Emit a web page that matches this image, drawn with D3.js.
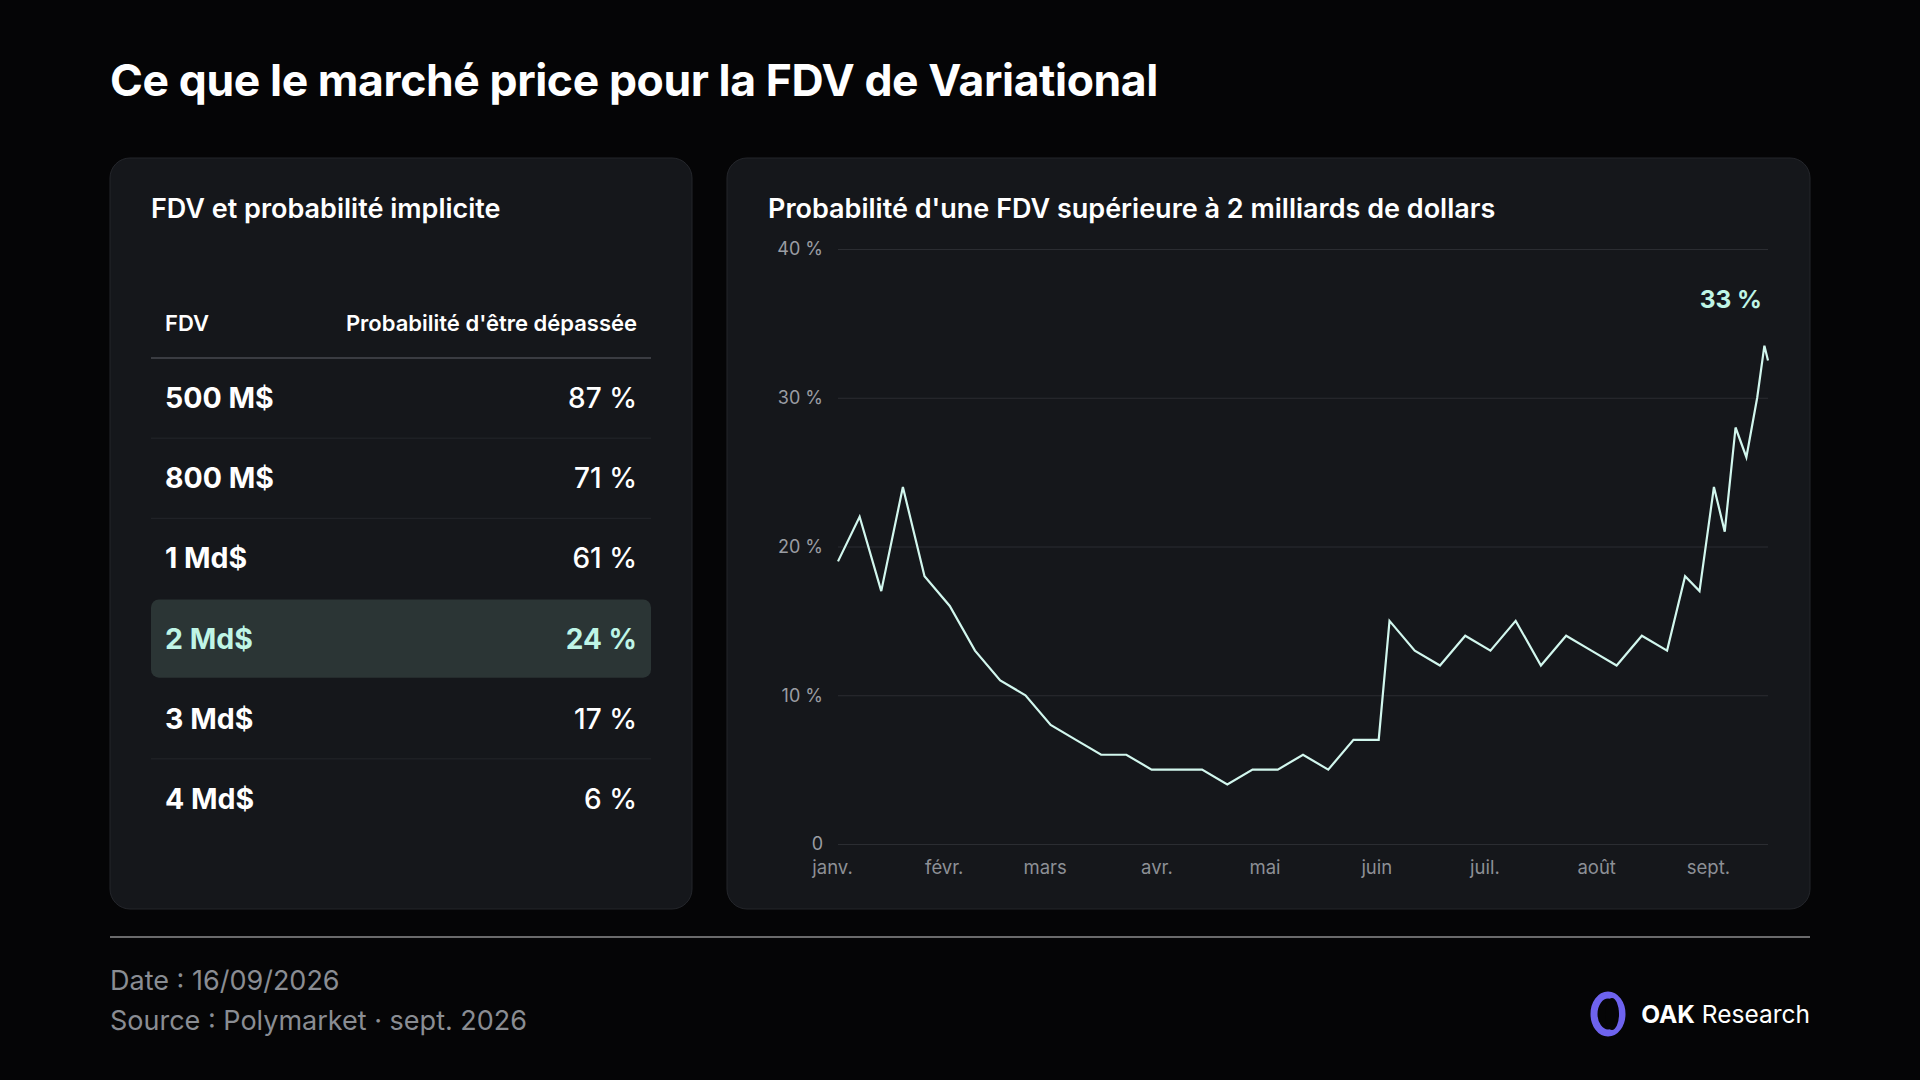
<!DOCTYPE html>
<html><head><meta charset="utf-8">
<script src="https://cdn.jsdelivr.net/npm/d3@7"></script>
<style>
body{margin:0;background:#050506;}
svg{display:block;font-family:Inter,"Noto Sans",sans-serif;}
</style></head>
<body><svg id="c" width="1920" height="1080"></svg>
<script>
// table data
const fdvLabels = ["500 M$", "800 M$", "1 Md$", "2 Md$", "3 Md$", "4 Md$"];
const fdvProbs = [87, 71, 61, 24, 17, 6];
const highlightIndex = 3;

// line data (probability FDV > 2 Md$)
const dates = ["2026-01-01","2026-01-07","2026-01-13","2026-01-19","2026-01-25","2026-02-01","2026-02-08","2026-02-15","2026-02-22","2026-03-01","2026-03-08","2026-03-15","2026-03-22","2026-03-29","2026-04-05","2026-04-12","2026-04-19","2026-04-26","2026-05-03","2026-05-10","2026-05-17","2026-05-24","2026-05-31","2026-06-03","2026-06-10","2026-06-17","2026-06-24","2026-07-01","2026-07-08","2026-07-15","2026-07-22","2026-07-29","2026-08-05","2026-08-12","2026-08-19","2026-08-24","2026-08-28","2026-09-01","2026-09-04","2026-09-07","2026-09-10","2026-09-13","2026-09-15","2026-09-16"];
const probs = [19,22,17,24,18,16,13,11,10,8,7,6,6,5,5,5,4,5,5,6,5,7,7,15,13,12,14,13,15,12,14,13,12,14,13,18,17,24,21,28,26,30,33.5,32.5];
const yTicks = [0, 10, 20, 30, 40];
const monthLabels = ["janv.","févr.","mars","avr.","mai","juin","juil.","août","sept."];

const svg = d3.select("#c");
const mint = "#bff5e6";

svg.append("text").attr("x", 110).attr("y", 96).attr("fill", "#fff")
  .attr("font-size", 44.5).attr("font-weight", 700).attr("letter-spacing", -0.4)
  .text("Ce que le marché price pour la FDV de Variational");

// panels
[[110, 582], [727, 1083]].forEach(p => {
  svg.append("rect").attr("x", p[0]).attr("y", 158).attr("width", p[1]).attr("height", 751)
    .attr("rx", 20).attr("fill", "#15171b").attr("stroke", "#24262b");
});

// left panel: table
svg.append("text").attr("x", 151).attr("y", 218).attr("fill", "#fff")
  .attr("font-size", 27).attr("font-weight", 600).text("FDV et probabilité implicite");
svg.append("text").attr("x", 165).attr("y", 331).attr("fill", "#fff")
  .attr("font-size", 22).attr("font-weight", 600).text("FDV");
svg.append("text").attr("x", 637).attr("y", 331).attr("fill", "#fff").attr("text-anchor", "end")
  .attr("font-size", 22).attr("font-weight", 600).text("Probabilité d'être dépassée");
svg.append("line").attr("x1", 151).attr("x2", 651).attr("y1", 358).attr("y2", 358)
  .attr("stroke", "#3a3c42").attr("stroke-width", 2);

const rowY = d3.scaleBand().domain(d3.range(fdvLabels.length)).range([358, 839]);
const rows = svg.selectAll("g.row").data(fdvLabels).join("g")
  .attr("transform", (d, i) => `translate(0,${rowY(i)})`);
rows.filter((d, i) => i === highlightIndex).append("rect")
  .attr("x", 151).attr("y", 1).attr("width", 500).attr("height", rowY.bandwidth() - 2)
  .attr("rx", 8).attr("fill", "#2b3535");
rows.filter((d, i) => i < fdvLabels.length - 1 && i !== highlightIndex && i !== highlightIndex - 1)
  .append("line").attr("x1", 151).attr("x2", 651)
  .attr("y1", rowY.bandwidth()).attr("y2", rowY.bandwidth()).attr("stroke", "#24262b");
rows.append("text").attr("x", 165).attr("y", rowY.bandwidth() / 2 + 10)
  .attr("font-size", 28.5).attr("font-weight", 700)
  .attr("fill", (d, i) => i === highlightIndex ? mint : "#fff").text(d => d);
rows.append("text").attr("x", 637).attr("y", rowY.bandwidth() / 2 + 10).attr("text-anchor", "end")
  .attr("font-size", 28).attr("font-weight", (d, i) => i === highlightIndex ? 700 : 500)
  .attr("fill", (d, i) => i === highlightIndex ? mint : "#fff")
  .text((d, i) => fdvProbs[i] + " %");

// right panel: line chart
svg.append("text").attr("x", 768).attr("y", 218).attr("fill", "#fff")
  .attr("font-size", 27).attr("font-weight", 600)
  .text("Probabilité d'une FDV supérieure à 2 milliards de dollars");

const parse = d3.timeParse("%Y-%m-%d");
const pts = dates.map((d, i) => ({ date: parse(d), v: probs[i] }));
const x = d3.scaleTime().domain([parse("2026-01-01"), parse("2026-09-16")]).range([838, 1768]);
const y = d3.scaleLinear().domain([0, 40]).range([844, 249]);

const gy = svg.append("g").attr("transform", "translate(838,0)")
  .call(d3.axisLeft(y).tickValues(yTicks).tickSize(-930).tickPadding(15)
    .tickFormat(d => d === 0 ? "0" : d + " %"));
gy.select(".domain").remove();
gy.selectAll("line").attr("stroke", "#2b2d32");
gy.selectAll("text").attr("fill", "#9a9da3").attr("font-size", 18).attr("font-family", "Inter");

const months = d3.range(9).map(m => new Date(2026, m, 1));
const gx = svg.append("g").attr("transform", "translate(-6,844)")
  .call(d3.axisBottom(x).tickValues(months).tickSize(0).tickPadding(17)
    .tickFormat((d, i) => monthLabels[i]));
gx.select(".domain").remove();
gx.selectAll("text").attr("fill", "#8d9096").attr("font-size", 18.5).attr("font-family", "Inter");

svg.append("path").datum(pts).attr("fill", "none").attr("stroke", "#d2f7ee").attr("stroke-width", 2.2)
  .attr("d", d3.line().x(d => x(d.date)).y(d => y(d.v)));

svg.append("text").attr("x", 1762).attr("y", 308).attr("text-anchor", "end").attr("fill", mint)
  .attr("font-size", 24.5).attr("font-weight", 700).text("33 %");

// footer
svg.append("line").attr("x1", 110).attr("x2", 1810).attr("y1", 937).attr("y2", 937)
  .attr("stroke", "#d0d0d0").attr("stroke-width", 1);
svg.append("text").attr("x", 110).attr("y", 990).attr("fill", "#8a8d93").attr("font-size", 27)
  .text("Date : 16/09/2026");
svg.append("text").attr("x", 110).attr("y", 1030).attr("fill", "#8a8d93").attr("font-size", 27)
  .text("Source : Polymarket · sept. 2026");

svg.append("ellipse").attr("cx", 1608).attr("cy", 1014).attr("rx", 14).attr("ry", 19)
  .attr("fill", "none").attr("stroke", "#6e63ee").attr("stroke-width", 7);
svg.append("ellipse").attr("cx", 1612).attr("cy", 1014).attr("rx", 7).attr("ry", 16)
  .attr("fill", "#050506");
const brand = svg.append("text").attr("x", 1810).attr("y", 1023).attr("text-anchor", "end")
  .attr("fill", "#fff").attr("font-size", 24.5);
brand.append("tspan").attr("font-weight", 700).text("OAK");
brand.append("tspan").attr("font-weight", 400).text(" Research");
</script></body></html>
